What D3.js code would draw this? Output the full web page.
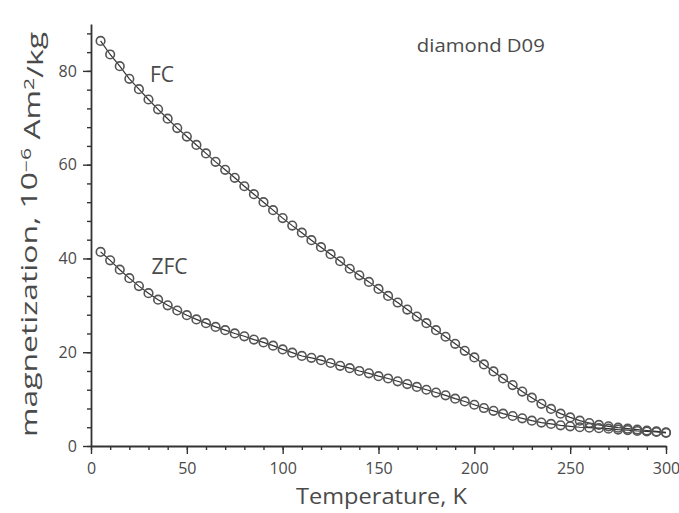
<!DOCTYPE html>
<html>
<head>
<meta charset="utf-8">
<script src="https://cdn.jsdelivr.net/npm/d3@7"></script>
<style>
  body { margin: 0; background: #fff; }
  text { font-family: 'Open Sans', 'Noto Sans', sans-serif; fill: #4a4a4a; }
</style>
</head>
<body>
<div id="chart"></div>
<script>
// temperature points, K
const temps = d3.range(5, 301, 5);

// FC curve, 10^-6 Am2/kg
const fcValues = [86.4, 83.5, 81.0, 78.3, 76.1, 73.9, 71.8, 69.8, 67.8, 66.0,
  64.2, 62.4, 60.6, 58.9, 57.2, 55.4, 53.7, 52.0, 50.3, 48.6,
  47.0, 45.5, 43.9, 42.4, 40.9, 39.4, 37.8, 36.4, 35.0, 33.5,
  32.0, 30.6, 29.1, 27.6, 26.2, 24.7, 23.3, 21.8, 20.3, 18.9,
  17.4, 15.9, 14.4, 13.0, 11.6, 10.3, 9.0, 7.9, 6.9, 6.1,
  5.4, 4.9, 4.5, 4.2, 3.9, 3.7, 3.5, 3.3, 3.1, 2.9];

// ZFC curve
const zfcValues = [41.4, 39.6, 37.6, 35.8, 34.1, 32.6, 31.2, 30.0, 28.9, 27.9,
  27.0, 26.2, 25.4, 24.7, 24.0, 23.4, 22.7, 22.1, 21.4, 20.6,
  19.9, 19.2, 18.8, 18.3, 17.7, 17.1, 16.6, 16.0, 15.5, 14.9,
  14.4, 13.8, 13.2, 12.6, 12.0, 11.4, 10.8, 10.1, 9.5, 8.8,
  8.1, 7.5, 6.9, 6.4, 5.9, 5.4, 5.0, 4.7, 4.4, 4.2,
  4.0, 3.9, 3.8, 3.7, 3.5, 3.4, 3.2, 3.1, 3.0, 2.8];

const xTicks = [0, 50, 100, 150, 200, 250, 300];
const yTicks = [0, 20, 40, 60, 80];

const W = 679, H = 513;
const margin = {top: 24, right: 13, bottom: 67, left: 91};

const svg = d3.select("#chart").append("svg")
  .attr("width", W).attr("height", H);

const x = d3.scaleLinear().domain([0, 300]).range([margin.left, W - margin.right]);
const y = d3.scaleLinear().domain([0, 90]).range([H - margin.bottom, margin.top]);

const axisColor = "#333";

// x axis: minor every 10, major every 50
const gx = svg.append("g").attr("transform", `translate(0,${y(0)})`);
gx.call(d3.axisBottom(x).tickValues(d3.range(0, 301, 10)).tickSize(4).tickSizeOuter(0).tickFormat(""));
const gxMaj = gx.append("g").call(d3.axisBottom(x).tickValues(xTicks).tickSize(8).tickFormat(d3.format("d")));
gxMaj.select(".domain").remove();

// y axis: minor every 4, major every 20
const gy = svg.append("g").attr("transform", `translate(${x(0)},0)`);
gy.call(d3.axisLeft(y).tickValues(d3.range(0, 89, 4)).tickSize(4).tickSizeOuter(0).tickFormat(""));
const gyMaj = gy.append("g").call(d3.axisLeft(y).tickValues(yTicks).tickSize(8).tickFormat(d3.format("d")));
gyMaj.select(".domain").remove();

svg.selectAll(".domain").attr("stroke", axisColor).attr("stroke-width", 1.8);
svg.selectAll(".tick line").attr("stroke", axisColor).attr("stroke-width", 1.4);
svg.selectAll(".tick text").style("font-size", "16px")
  .style("font-family", "'Open Sans', sans-serif").attr("fill", "#4a4a4a");
gxMaj.selectAll(".tick text").attr("dy", "1.05em");
gyMaj.selectAll(".tick text").attr("dx", "-0.2em");

// series
const series = [
  {name: "FC", values: fcValues},
  {name: "ZFC", values: zfcValues}
];

const line = d3.line().x((d, i) => x(temps[i])).y(d => y(d));

series.forEach(s => {
  svg.append("path")
    .datum(s.values)
    .attr("d", line)
    .attr("fill", "none")
    .attr("stroke", "#333")
    .attr("stroke-width", 1.2);
  svg.append("g").selectAll("circle")
    .data(s.values)
    .enter().append("circle")
    .attr("cx", (d, i) => x(temps[i]))
    .attr("cy", d => y(d))
    .attr("r", 4.3)
    .attr("fill", "none")
    .attr("stroke", "#555")
    .attr("stroke-width", 1.6);
});

// curve labels
svg.append("text").attr("x", x(30.8)).attr("y", y(77.6))
  .style("font-size", "21px").text("FC");
svg.append("text").attr("x", x(31.5)).attr("y", y(36.6))
  .style("font-size", "21px").text("ZFC");
svg.append("text").attr("x", x(170)).attr("y", y(84))
  .style("font-size", "18px").attr("textLength", 128).attr("lengthAdjust", "spacingAndGlyphs")
  .text("diamond D09");

// axis titles
svg.append("text")
  .attr("x", 296).attr("y", 504)
  .style("font-size", "22px")
  .attr("textLength", 171).attr("lengthAdjust", "spacingAndGlyphs")
  .text("Temperature, K");

const yl = svg.append("text")
  .attr("transform", `translate(37,437) rotate(-90)`)
  .style("font-size", "21px")
  .attr("textLength", 405).attr("lengthAdjust", "spacingAndGlyphs");
yl.append("tspan").text("magnetization, 10");
yl.append("tspan").attr("dy", "-0.45em").style("font-size", "14px").text("−6");
yl.append("tspan").attr("dy", "0.45em").text(" Am");
yl.append("tspan").attr("dy", "-0.45em").style("font-size", "14px").text("2");
yl.append("tspan").attr("dy", "0.45em").text("/kg");
</script>
</body>
</html>
